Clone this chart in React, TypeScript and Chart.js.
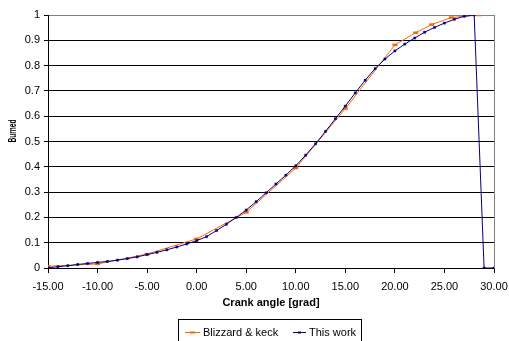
import React, { useEffect, useRef } from "react";
import { Chart, registerables } from "chart.js";

Chart.register(...registerables);

// ---------- data ----------
const thisWorkAngles = [
  -15, -14, -13, -12, -11, -10, -9, -8, -7, -6, -5, -4, -3, -2, -1, 0, 1, 2, 3, 4, 5, 6, 7,
  8, 9, 10, 11, 12, 13, 14, 15, 16, 17, 18, 19, 20, 21, 22, 23, 24, 25, 26, 27, 28, 29, 30,
];
const thisWorkBurned = [
  0.001, 0.005, 0.009, 0.014, 0.018, 0.022, 0.026, 0.031, 0.037, 0.044, 0.053, 0.062, 0.072,
  0.083, 0.095, 0.108, 0.124, 0.148, 0.173, 0.2, 0.229, 0.262, 0.297, 0.332, 0.367, 0.404,
  0.446, 0.491, 0.54, 0.59, 0.64, 0.692, 0.742, 0.788, 0.826, 0.858, 0.885, 0.909, 0.932,
  0.951, 0.968, 0.983, 0.995, 1.0, 0, 0,
];
const blizzardAngles = [-15, -10, -5, 0, 5, 10, 15, 20, 22.1, 23.7, 25.7, 28.5];
const blizzardBurned = [0.007, 0.016, 0.055, 0.115, 0.22, 0.395, 0.63, 0.882, 0.93, 0.962, 0.99, 1.0];

const xTickLabels = ["-15.00", "-10.00", "-5.00", "0.00", "5.00", "10.00", "15.00", "20.00", "25.00", "30.00"];
const yTickLabels = ["0", "0.1", "0.2", "0.3", "0.4", "0.5", "0.6", "0.7", "0.8", "0.9", "1"];
const seriesNames = ["Blizzard & keck", "This work"];
const xTitle = "Crank angle [grad]";
const yTitle = "Burned";

const ORANGE = "#FF6600";
const NAVY = "#000080";
const FONT = '"Liberation Sans", Arial, sans-serif';

export default function App() {
  const ref = useRef<HTMLCanvasElement | null>(null);

  useEffect(() => {
    const canvas = ref.current;
    if (!canvas) return;

    const framePlugin = {
      id: "frame",
      beforeDatasetsDraw(chart: any) {
        const { ctx, chartArea } = chart;
        ctx.save();
        ctx.strokeStyle = "#808080";
        ctx.lineWidth = 1;
        ctx.beginPath();
        const x = Math.round(chartArea.right) + 0.5;
        ctx.moveTo(x, Math.round(chartArea.top));
        ctx.lineTo(x, Math.round(chartArea.bottom) + 0.5);
        ctx.stroke();
        ctx.restore();
      },
      afterDraw(chart: any) {
        const { ctx } = chart;
        ctx.save();
        // y title (condensed like the reference)
        ctx.translate(13, 131);
        ctx.rotate(-Math.PI / 2);
        ctx.scale(0.6, 1);
        ctx.font = `bold 11px ${FONT}`;
        ctx.fillStyle = "#000";
        ctx.textAlign = "center";
        ctx.textBaseline = "middle";
        ctx.fillText(yTitle, 0, 0);
        ctx.restore();

        // legend
        ctx.save();
        ctx.strokeStyle = "#000";
        ctx.lineWidth = 1;
        ctx.strokeRect(178.5, 319.5, 183, 30);
        const ly = 332.5;
        ctx.font = `11px ${FONT}`;
        ctx.fillStyle = "#000";
        ctx.textAlign = "left";
        ctx.textBaseline = "middle";
        // orange entry
        ctx.strokeStyle = ORANGE;
        ctx.beginPath();
        ctx.moveTo(185, ly);
        ctx.lineTo(200, ly);
        ctx.stroke();
        ctx.fillStyle = ORANGE;
        ctx.fillRect(190, ly - 1, 5, 2);
        ctx.fillStyle = "#000";
        ctx.fillText(seriesNames[0], 203, ly);
        // navy entry
        ctx.strokeStyle = NAVY;
        ctx.beginPath();
        ctx.moveTo(293, ly);
        ctx.lineTo(306, ly);
        ctx.stroke();
        ctx.fillStyle = NAVY;
        ctx.fillRect(298, ly - 1, 3, 2);
        ctx.fillStyle = "#000";
        ctx.fillText(seriesNames[1], 309, ly);
        ctx.restore();
      },
    };

    Chart.defaults.font.family = FONT;
    Chart.defaults.font.size = 11;
    Chart.defaults.color = "#000";

    const chart = new Chart(canvas, {
      type: "line",
      data: {
        datasets: [
          {
            label: seriesNames[0],
            data: blizzardAngles.map((x, i) => ({ x, y: blizzardBurned[i] })),
            borderColor: ORANGE,
            backgroundColor: ORANGE,
            borderWidth: 1,
            pointStyle: "line",
            pointRadius: 2.5,
            pointBorderWidth: 2.5,
            pointBorderColor: ORANGE,
            tension: 0,
            order: 1,
          },
          {
            label: seriesNames[1],
            data: thisWorkAngles.map((x, i) => ({ x, y: thisWorkBurned[i] })),
            borderColor: NAVY,
            backgroundColor: NAVY,
            borderWidth: 1,
            pointStyle: "rect",
            pointRadius: 1.5,
            pointBorderWidth: 0.5,
            pointBorderColor: NAVY,
            tension: 0,
            order: 0,
          },
        ],
      },
      options: {
        responsive: false,
        animation: false,
        layout: { padding: { left: 0, right: 15, top: 15, bottom: 0 } },
        plugins: {
          legend: { display: false },
          tooltip: { enabled: false },
        },
        scales: {
          x: {
            type: "linear",
            min: -15,
            max: 30,
            afterFit: (s: any) => {
              s.height = 73;
              s.paddingLeft = 0;
              s.paddingRight = 0;
            },
            ticks: {
              stepSize: 5,
              padding: 7,
              maxRotation: 0,
              autoSkip: false,
              callback: (_v: any, i: number) => xTickLabels[i],
              font: { size: 11 },
              color: "#000",
            },
            grid: {
              drawOnChartArea: false,
              drawTicks: true,
              tickLength: 5,
              color: "#000",
              tickColor: "#000",
            },
            border: { display: true, color: "#000", width: 1 },
            title: {
              display: true,
              text: xTitle,
              font: { size: 11, weight: "bold" },
              color: "#000",
              padding: { top: 0, bottom: 31 },
            },
          },
          y: {
            type: "linear",
            min: 0,
            max: 1,
            afterFit: (s: any) => {
              s.width = 48;
              s.paddingTop = 0;
              s.paddingBottom = 0;
            },
            ticks: {
              stepSize: 0.1,
              padding: 4,
              callback: (_v: any, i: number) => yTickLabels[i],
              font: { size: 11 },
              color: "#000",
            },
            grid: {
              drawOnChartArea: true,
              drawTicks: true,
              tickLength: 4,
              color: (c: any) => (c.tick && c.tick.value >= 0.999 ? "#808080" : "#000"),
              tickColor: "#000",
            },
            border: { display: true, color: "#000", width: 1 },
          },
        },
      },
      plugins: [framePlugin],
    } as any);

    return () => chart.destroy();
  }, []);

  return (
    <div style={{ position: "fixed", left: 0, top: 0, width: 509, height: 341, background: "#fff" }}>
      <canvas ref={ref} width={509} height={341} style={{ width: 509, height: 341, display: "block" }} />
    </div>
  );
}
